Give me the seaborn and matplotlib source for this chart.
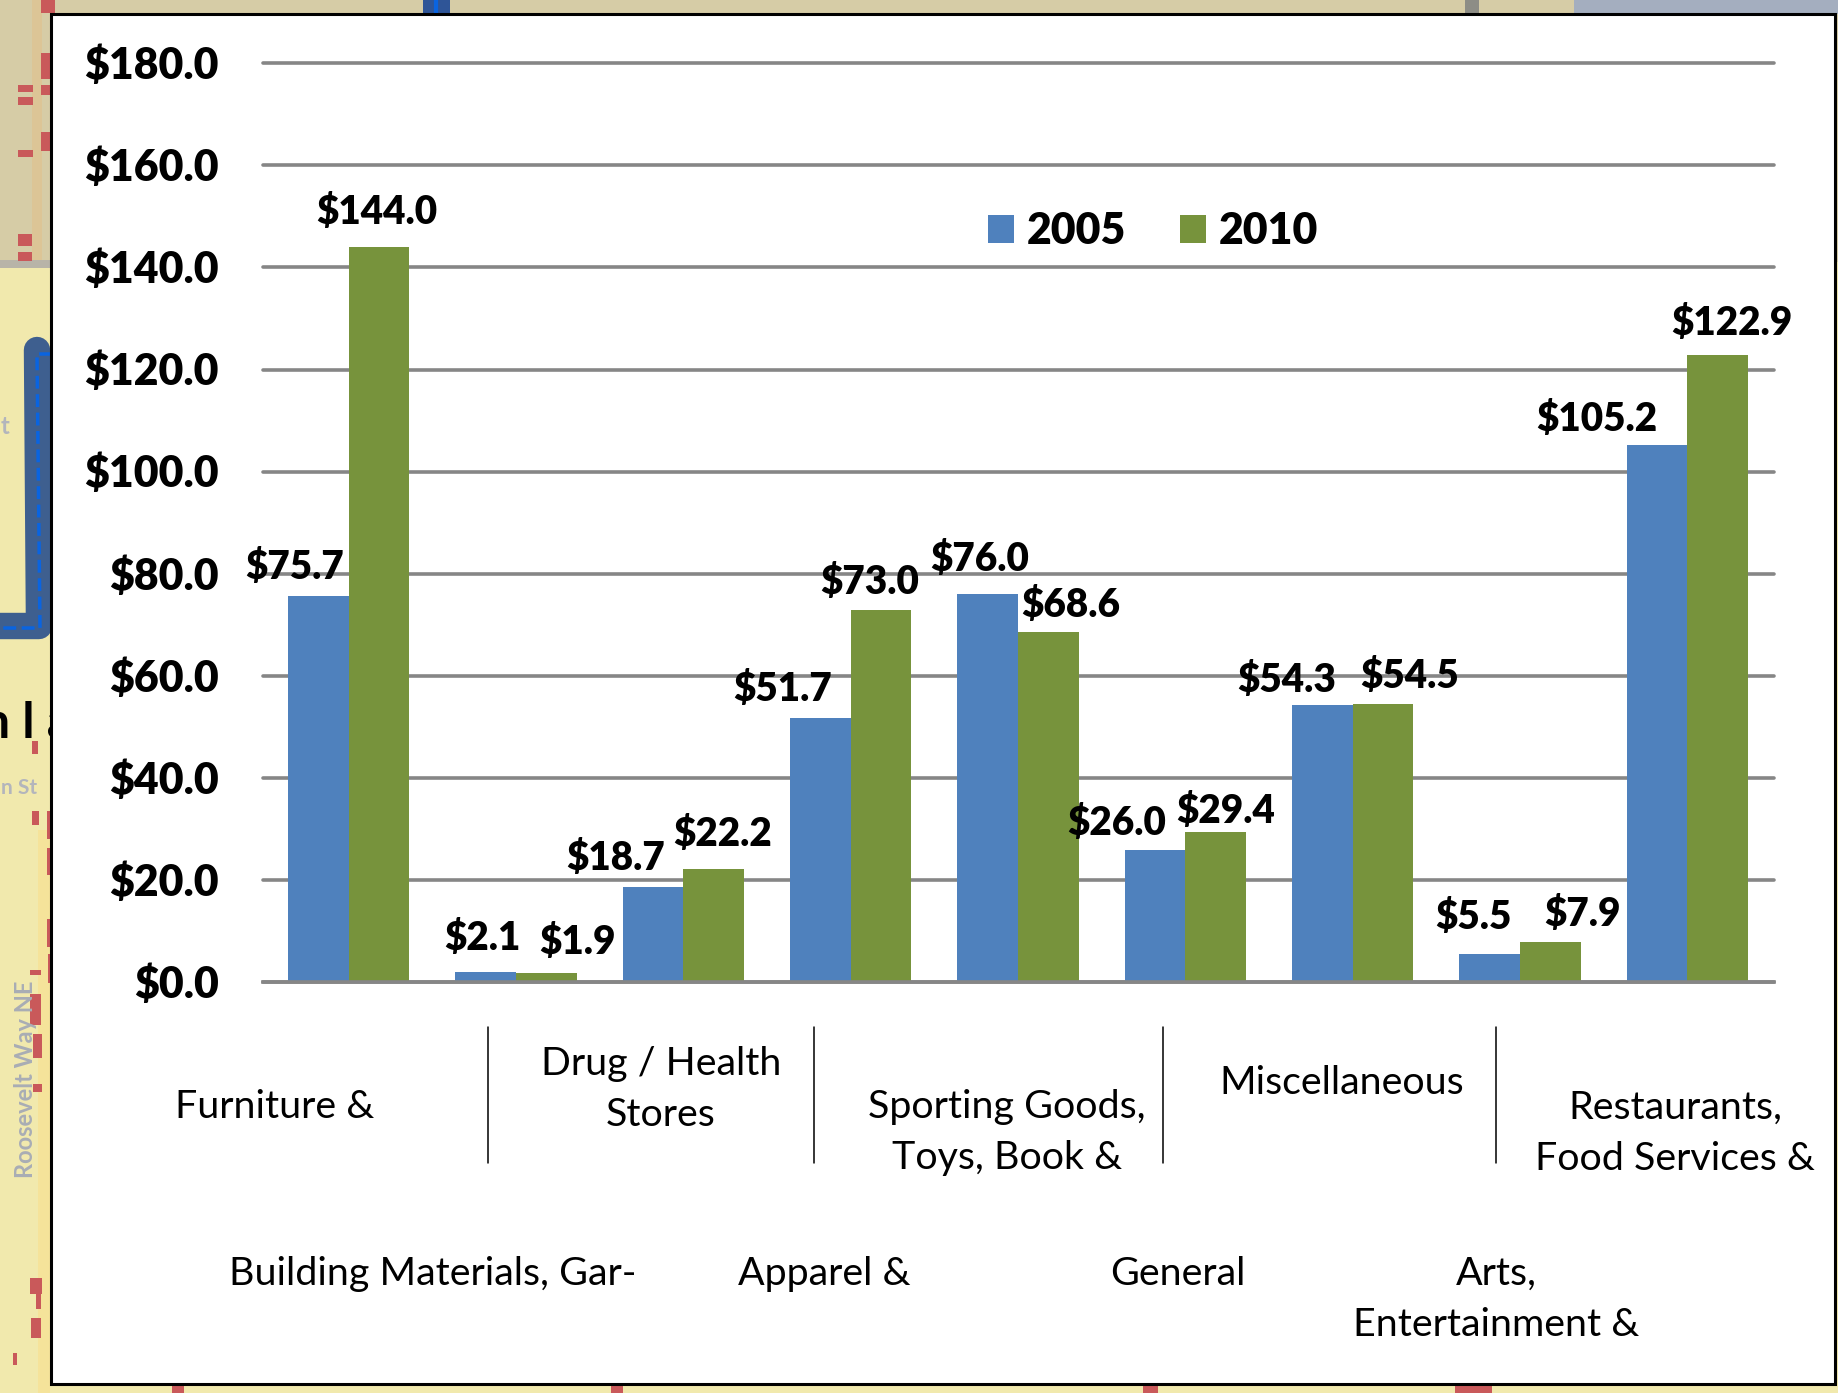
from matplotlib import pyplot as plt
from matplotlib.patches import Rectangle
from matplotlib import ticker as ticker
from matplotlib import transforms as transforms
import pandas as pd
import seaborn as sns

sns.set_style('white', {'axes.grid': True})
plt.rcParams['font.family'] = ['Lato', 'DejaVu Sans']

categories = ['Furniture', 'Building Materials', 'Drug / Health', 'Apparel', 'Sporting Goods',
              'General', 'Miscellaneous', 'Arts', 'Restaurants']
values_2005 = [75.7, 2.1, 18.7, 51.7, 76.0, 26.0, 54.3, 5.5, 105.2]
values_2010 = [144.0, 1.9, 22.2, 73.0, 68.6, 29.4, 54.5, 7.9, 122.9]
tick_values = [0, 20, 40, 60, 80, 100, 120, 140, 160, 180]
category_labels = ['Furniture &', 'Building Materials, Gar-', 'Drug / Health\nStores', 'Apparel &',
                   'Sporting Goods,\nToys, Book &', 'General', 'Miscellaneous',
                   'Arts,\nEntertainment &', 'Restaurants,\nFood Services &']

# where the staggered labels sit, in figure pixels (top of first line centre)
label_x = [275, 433, 661, 824, 1007, 1178, 1342, 1496, 1675]
label_y = [1089, 1256, 1046, 1256, 1089, 1256, 1065, 1256, 1090]
dividers = [488, 814, 1163, 1496]

# value label offsets from the top centre of each bar, in pixels
dx_2005 = [-24, -3, -37, -38, -8, -38, -36, -16, -60]
dy_2005 = [28, 33, 28, 29, 35, 26, 25, 37, 26]
dx_2010 = [-2, 31, 9, -11, 23, 10, 27, 32, 14]
dy_2010 = [35, 30, 35, 27, 27, 21, 28, 28, 31]

df = pd.DataFrame({'category': categories * 2,
                   'value': values_2005 + values_2010,
                   'year': ['2005'] * 9 + ['2010'] * 9})

fig = plt.figure(figsize=(18.38, 13.93), dpi=100)

# map behind the chart
bg = fig.add_axes([0, 0, 1, 1], zorder=0)
bg.set_xlim(0, 1838)
bg.set_ylim(1393, 0)
bg.axis('off')
bg.grid(False)
bg.add_patch(Rectangle((0, 0), 1838, 262, color='#d6cca6', lw=0))
bg.add_patch(Rectangle((0, 262), 1838, 1131, color='#f1e9ad', lw=0))
bg.add_patch(Rectangle((1574, 0), 264, 14, color='#a4aebf', lw=0))
bg.add_patch(Rectangle((1465, 0), 14, 14, color='#8d8d86', lw=0))
bg.add_patch(Rectangle((0, 260), 52, 8, color='#b8b4a8', lw=0))
bg.add_patch(Rectangle((32, 0), 10, 260, color='#dcc596', lw=0))
bg.add_patch(Rectangle((38, 830), 12, 563, color='#f5e39a', lw=0))

red = [(41, 0, 14, 13), (41, 53, 11, 26), (41, 85, 11, 10), (18, 85, 15, 7), (18, 97, 15, 8),
       (41, 132, 11, 19), (18, 150, 15, 7), (18, 234, 14, 12), (18, 252, 14, 9), (32, 741, 6, 13),
       (32, 811, 7, 14), (47, 811, 3, 28), (47, 848, 3, 27), (47, 919, 3, 28), (48, 954, 2, 29),
       (30, 970, 11, 5), (30, 994, 11, 31), (33, 1034, 9, 24), (33, 1084, 9, 8), (30, 1278, 12, 16),
       (36, 1294, 5, 15), (31, 1318, 10, 20), (13, 1353, 4, 12), (172, 1385, 12, 8), (611, 1385, 12, 8),
       (1143, 1385, 15, 8), (1455, 1385, 37, 8)]
for r in red:
    bg.add_patch(Rectangle((r[0], r[1]), r[2], r[3], color='#c9595a', lw=0))

bg.plot([37, 39], [350, 625], color='#3e5f8f', lw=19, solid_capstyle='round')
bg.plot([0, 39], [626, 626], color='#3e5f8f', lw=19, solid_capstyle='round')
bg.plot([52, 37, 40, 0], [354, 354, 628, 628], color='#0a64e0', lw=2.5, ls='--')
bg.add_patch(Rectangle((423, 0), 27, 14, color='#2f5597', lw=0))
bg.plot([436, 436], [0, 14], color='#0a64e0', lw=3)
bg.text(-18, 723, 'n l a', fontsize=36, fontweight='bold', color='black', va='center')
bg.text(1, 788, 'n St', fontsize=15, fontweight='bold', color='#b3b5bc', va='center')
bg.text(1, 426, 't', fontsize=17, fontweight='bold', color='#b3b5bc', va='center')
bg.text(26, 1079, 'Roosevelt Way NE', fontsize=17, fontweight='bold', color='#a9adb5',
        rotation=90, ha='center', va='center')

# white panel
bg.add_patch(Rectangle((51, 14), 1784, 1370, facecolor='white', edgecolor='black', lw=2.2, zorder=5))

for x in dividers:
    bg.plot([x, x], [1027, 1163], color='black', lw=1.1, zorder=6)
for i in range(len(category_labels)):
    bg.text(label_x[i], label_y[i], category_labels[i], fontsize=28.4, color='black', ha='center',
            va='top', linespacing=1.52, zorder=6)

ax1 = fig.add_axes([263 / 1838, 1 - 982.4 / 1393, 1511 / 1838, 919.2 / 1393], zorder=1)
ax1.patch.set_alpha(0)

sns.barplot(x='category', y='value', hue='year', data=df, order=categories, width=0.725, gap=0,
            palette=['#4f81bd', '#77933c'], saturation=1, linewidth=0, ax=ax1)
ax1.set(xlim=(-0.511, 8.518), ylim=(0, 180), xlabel='', ylabel='')
ax1.set_yticks(tick_values)
ax1.yaxis.set_major_formatter(ticker.StrMethodFormatter('${x:.1f}'))
ax1.set_axisbelow(True)
ax1.grid(True, axis='y', color='#868686', lw=2.6, clip_on=False)
ax1.grid(False, axis='x')
ax1.tick_params(axis='y', length=0, pad=32, labelsize=30.8)
ax1.tick_params(axis='x', length=0, labelbottom=False)
up = transforms.ScaledTranslation(0, 1 / 100, fig.dpi_scale_trans)
for label in ax1.get_yticklabels():
    label.set_fontweight('heavy')
    label.set_color('black')
    label.set_transform(label.get_transform() + up)
sns.despine(ax=ax1, left=True, top=True, right=True)
ax1.spines['bottom'].set_color('#868686')
ax1.spines['bottom'].set_linewidth(2.6)

offsets = [(dx_2005, dy_2005, values_2005), (dx_2010, dy_2010, values_2010)]
for container, (dx, dy, vals) in zip(ax1.containers, offsets):
    for i, bar in enumerate(container):
        ax1.annotate('${:.1f}'.format(vals[i]), (bar.get_x() + bar.get_width() / 2, bar.get_height()),
                     xytext=(dx[i], dy[i]), textcoords='offset pixels', ha='center', va='center',
                     fontsize=27.8, fontweight='heavy', color='black', annotation_clip=False)

sns.move_legend(ax1, loc='center', bbox_to_anchor=(0.589, 0.8175), ncol=2, frameon=False, title=None,
                prop={'size': 30.8, 'weight': 'heavy'}, handlelength=0.62, handleheight=0.62,
                columnspacing=1.26, handletextpad=0.29)
for t in ax1.get_legend().get_texts():
    t.set_color('black')
    t.set_fontweight('heavy')

plt.savefig('out.png', format='png', dpi=100)

print('finish')
